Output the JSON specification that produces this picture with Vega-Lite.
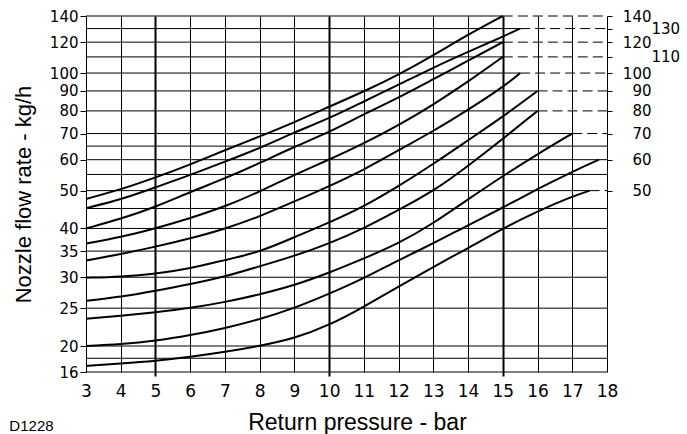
{
  "$schema": "https://vega.github.io/schema/vega-lite/v6.json",
  "width": 521,
  "height": 356,
  "autosize": {"type": "none"},
  "padding": {"left": 86, "top": 16, "right": 80, "bottom": 62},
  "background": "white",
  "config": {"view": {"stroke": null}},
  "title": {"text": "D1228", "orient": "bottom", "anchor": "start", "frame": "bounds", "font": "Liberation Sans", "fontSize": 15, "fontWeight": "normal", "color": "black", "dy": -19, "dx": -3},
  "layer": [
    {
      "data": {"values": [
        {"level": 140, "from": 3, "to": 15, "segment": "grid"},
        {"level": 140, "from": 15, "to": 18, "segment": "extension"},
        {"level": 130, "from": 3, "to": 15.5, "segment": "grid"},
        {"level": 130, "from": 15.5, "to": 18, "segment": "extension"},
        {"level": 120, "from": 3, "to": 15, "segment": "grid"},
        {"level": 120, "from": 15, "to": 18, "segment": "extension"},
        {"level": 110, "from": 3, "to": 15, "segment": "grid"},
        {"level": 110, "from": 15, "to": 18, "segment": "extension"},
        {"level": 100, "from": 3, "to": 15.5, "segment": "grid"},
        {"level": 100, "from": 15.5, "to": 18, "segment": "extension"},
        {"level": 90, "from": 3, "to": 16, "segment": "grid"},
        {"level": 90, "from": 16, "to": 18, "segment": "extension"},
        {"level": 80, "from": 3, "to": 16, "segment": "grid"},
        {"level": 80, "from": 16, "to": 18, "segment": "extension"},
        {"level": 70, "from": 3, "to": 17, "segment": "grid"},
        {"level": 70, "from": 17, "to": 18, "segment": "extension"},
        {"level": 65, "from": 3, "to": 18, "segment": "grid"},
        {"level": 60, "from": 3, "to": 17.77, "segment": "grid"},
        {"level": 60, "from": 17.77, "to": 18, "segment": "extension"},
        {"level": 55, "from": 3, "to": 18, "segment": "grid"},
        {"level": 50, "from": 3, "to": 17.5, "segment": "grid"},
        {"level": 50, "from": 17.5, "to": 18, "segment": "extension"},
        {"level": 45, "from": 3, "to": 18, "segment": "grid"},
        {"level": 40, "from": 3, "to": 18, "segment": "grid"},
        {"level": 35, "from": 3, "to": 18, "segment": "grid"},
        {"level": 30, "from": 3, "to": 18, "segment": "grid"},
        {"level": 25, "from": 3, "to": 18, "segment": "grid"},
        {"level": 20, "from": 3, "to": 18, "segment": "grid"},
        {"level": 18, "from": 3, "to": 18, "segment": "grid"},
        {"level": 16, "from": 3, "to": 18, "segment": "grid"}
      ]},
      "mark": {"type": "rule", "color": "black", "strokeWidth": 1},
      "encoding": {
        "y": {
          "field": "level", "type": "quantitative",
          "scale": {"type": "log", "domain": [16, 20, 140], "range": [356, 330, 0], "nice": false},
          "axis": {
            "orient": "left",
            "values": [140, 120, 100, 90, 80, 70, 60, 50, 40, 35, 30, 25, 20, 16],
            "format": "d",
            "grid": false, "domain": false,
            "ticks": true, "tickSize": 6, "tickColor": "black", "tickWidth": 1,
            "labelPadding": 2, "labelFont": "DejaVu Sans", "labelFontSize": 15, "labelColor": "black",
            "labelOverlap": false, "labelFlush": false,
            "title": "Nozzle flow rate - kg/h",
            "titleFont": "Liberation Sans", "titleFontSize": 22, "titleFontWeight": "normal", "titleColor": "black",
            "titlePadding": 14
          }
        },
        "x": {
          "field": "from", "type": "quantitative",
          "scale": {"domain": [3, 18], "nice": false, "zero": false},
          "axis": {
            "orient": "bottom",
            "values": [3, 4, 5, 6, 7, 8, 9, 10, 11, 12, 13, 14, 15, 16, 17, 18],
            "format": "d",
            "grid": true, "gridColor": "black", "gridOpacity": 1,
            "gridWidth": {"condition": {"test": "datum.value % 5 == 0", "value": 2}, "value": 1},
            "domain": false,
            "ticks": true, "tickSize": 4, "tickWidth": 2, "tickColor": "black",
            "tickOpacity": {"condition": {"test": "datum.value % 5 == 0", "value": 1}, "value": 0},
            "labelPadding": 7, "labelFont": "DejaVu Sans", "labelFontSize": 17, "labelColor": "black",
            "labelOverlap": false, "labelFlush": false,
            "title": "Return pressure - bar",
            "titleFont": "Liberation Sans", "titleFontSize": 23, "titleFontWeight": "normal", "titleColor": "black",
            "titlePadding": 12, "titleX": 271
          }
        },
        "x2": {"field": "to"},
        "strokeDash": {
          "field": "segment", "type": "nominal",
          "scale": {"domain": ["grid", "extension"], "range": [[1, 0], [10, 5]]},
          "legend": null
        }
      }
    },
    {
      "data": {"values": [
        {"nozzle": "140", "pressure": 3, "flow": 47.6},
        {"nozzle": "140", "pressure": 4, "flow": 50.3},
        {"nozzle": "140", "pressure": 5, "flow": 54.0},
        {"nozzle": "140", "pressure": 6, "flow": 58.3},
        {"nozzle": "140", "pressure": 7, "flow": 63.5},
        {"nozzle": "140", "pressure": 8, "flow": 68.8},
        {"nozzle": "140", "pressure": 9, "flow": 74.8},
        {"nozzle": "140", "pressure": 10, "flow": 82},
        {"nozzle": "140", "pressure": 11, "flow": 89.7},
        {"nozzle": "140", "pressure": 12, "flow": 99},
        {"nozzle": "140", "pressure": 13, "flow": 111},
        {"nozzle": "140", "pressure": 14, "flow": 125.5},
        {"nozzle": "140", "pressure": 15, "flow": 140},
        {"nozzle": "130", "pressure": 3, "flow": 45.1},
        {"nozzle": "130", "pressure": 4, "flow": 47.4},
        {"nozzle": "130", "pressure": 5, "flow": 51.0},
        {"nozzle": "130", "pressure": 6, "flow": 54.8},
        {"nozzle": "130", "pressure": 7, "flow": 59.3},
        {"nozzle": "130", "pressure": 8, "flow": 64.2},
        {"nozzle": "130", "pressure": 9, "flow": 70.5},
        {"nozzle": "130", "pressure": 10, "flow": 76.5},
        {"nozzle": "130", "pressure": 11, "flow": 84.6},
        {"nozzle": "130", "pressure": 12, "flow": 93.3},
        {"nozzle": "130", "pressure": 13, "flow": 103.3},
        {"nozzle": "130", "pressure": 14, "flow": 113.3},
        {"nozzle": "130", "pressure": 15, "flow": 124},
        {"nozzle": "130", "pressure": 15.5, "flow": 130},
        {"nozzle": "120", "pressure": 3, "flow": 40.0},
        {"nozzle": "120", "pressure": 4, "flow": 42.3},
        {"nozzle": "120", "pressure": 5, "flow": 45.4},
        {"nozzle": "120", "pressure": 6, "flow": 49.6},
        {"nozzle": "120", "pressure": 7, "flow": 53.7},
        {"nozzle": "120", "pressure": 8, "flow": 58.8},
        {"nozzle": "120", "pressure": 9, "flow": 64.8},
        {"nozzle": "120", "pressure": 10, "flow": 70.5},
        {"nozzle": "120", "pressure": 11, "flow": 78.5},
        {"nozzle": "120", "pressure": 12, "flow": 86.5},
        {"nozzle": "120", "pressure": 13, "flow": 96.5},
        {"nozzle": "120", "pressure": 14, "flow": 107.5},
        {"nozzle": "120", "pressure": 15, "flow": 120},
        {"nozzle": "110", "pressure": 3, "flow": 36.6},
        {"nozzle": "110", "pressure": 4, "flow": 38.0},
        {"nozzle": "110", "pressure": 5, "flow": 40.0},
        {"nozzle": "110", "pressure": 6, "flow": 42.5},
        {"nozzle": "110", "pressure": 7, "flow": 45.5},
        {"nozzle": "110", "pressure": 8, "flow": 49.7},
        {"nozzle": "110", "pressure": 9, "flow": 54.9},
        {"nozzle": "110", "pressure": 10, "flow": 60},
        {"nozzle": "110", "pressure": 11, "flow": 66},
        {"nozzle": "110", "pressure": 12, "flow": 73.5},
        {"nozzle": "110", "pressure": 13, "flow": 83},
        {"nozzle": "110", "pressure": 14, "flow": 95},
        {"nozzle": "110", "pressure": 15, "flow": 110},
        {"nozzle": "100", "pressure": 3, "flow": 33.1},
        {"nozzle": "100", "pressure": 4, "flow": 34.4},
        {"nozzle": "100", "pressure": 5, "flow": 35.9},
        {"nozzle": "100", "pressure": 6, "flow": 37.7},
        {"nozzle": "100", "pressure": 7, "flow": 39.9},
        {"nozzle": "100", "pressure": 8, "flow": 42.9},
        {"nozzle": "100", "pressure": 9, "flow": 46.9},
        {"nozzle": "100", "pressure": 10, "flow": 51.3},
        {"nozzle": "100", "pressure": 11, "flow": 56.5},
        {"nozzle": "100", "pressure": 12, "flow": 63.5},
        {"nozzle": "100", "pressure": 13, "flow": 71},
        {"nozzle": "100", "pressure": 14, "flow": 80.5},
        {"nozzle": "100", "pressure": 15, "flow": 92},
        {"nozzle": "100", "pressure": 15.5, "flow": 100},
        {"nozzle": "90", "pressure": 3, "flow": 29.9},
        {"nozzle": "90", "pressure": 4, "flow": 30.1},
        {"nozzle": "90", "pressure": 5, "flow": 30.6},
        {"nozzle": "90", "pressure": 6, "flow": 31.6},
        {"nozzle": "90", "pressure": 7, "flow": 33.2},
        {"nozzle": "90", "pressure": 8, "flow": 34.8},
        {"nozzle": "90", "pressure": 9, "flow": 38.0},
        {"nozzle": "90", "pressure": 10, "flow": 41.4},
        {"nozzle": "90", "pressure": 11, "flow": 45.5},
        {"nozzle": "90", "pressure": 12, "flow": 51.3},
        {"nozzle": "90", "pressure": 13, "flow": 58.5},
        {"nozzle": "90", "pressure": 14, "flow": 67.3},
        {"nozzle": "90", "pressure": 15, "flow": 77.3},
        {"nozzle": "90", "pressure": 16, "flow": 90},
        {"nozzle": "80", "pressure": 3, "flow": 26.1},
        {"nozzle": "80", "pressure": 4, "flow": 26.7},
        {"nozzle": "80", "pressure": 5, "flow": 27.7},
        {"nozzle": "80", "pressure": 6, "flow": 28.8},
        {"nozzle": "80", "pressure": 7, "flow": 30.1},
        {"nozzle": "80", "pressure": 8, "flow": 32.0},
        {"nozzle": "80", "pressure": 9, "flow": 34.0},
        {"nozzle": "80", "pressure": 10, "flow": 36.6},
        {"nozzle": "80", "pressure": 11, "flow": 40.0},
        {"nozzle": "80", "pressure": 12, "flow": 44.6},
        {"nozzle": "80", "pressure": 13, "flow": 49.8},
        {"nozzle": "80", "pressure": 14, "flow": 57.8},
        {"nozzle": "80", "pressure": 15, "flow": 67.8},
        {"nozzle": "80", "pressure": 16, "flow": 80},
        {"nozzle": "70", "pressure": 3, "flow": 23.5},
        {"nozzle": "70", "pressure": 4, "flow": 23.9},
        {"nozzle": "70", "pressure": 5, "flow": 24.4},
        {"nozzle": "70", "pressure": 6, "flow": 25.0},
        {"nozzle": "70", "pressure": 7, "flow": 25.9},
        {"nozzle": "70", "pressure": 8, "flow": 27.1},
        {"nozzle": "70", "pressure": 9, "flow": 28.6},
        {"nozzle": "70", "pressure": 10, "flow": 30.8},
        {"nozzle": "70", "pressure": 11, "flow": 33.5},
        {"nozzle": "70", "pressure": 12, "flow": 36.6},
        {"nozzle": "70", "pressure": 13, "flow": 41.2},
        {"nozzle": "70", "pressure": 14, "flow": 47.5},
        {"nozzle": "70", "pressure": 15, "flow": 54.5},
        {"nozzle": "70", "pressure": 16, "flow": 62},
        {"nozzle": "70", "pressure": 17, "flow": 70},
        {"nozzle": "60", "pressure": 3, "flow": 20.0},
        {"nozzle": "60", "pressure": 4, "flow": 20.2},
        {"nozzle": "60", "pressure": 5, "flow": 20.6},
        {"nozzle": "60", "pressure": 6, "flow": 21.3},
        {"nozzle": "60", "pressure": 7, "flow": 22.2},
        {"nozzle": "60", "pressure": 8, "flow": 23.4},
        {"nozzle": "60", "pressure": 9, "flow": 25.0},
        {"nozzle": "60", "pressure": 10, "flow": 27.2},
        {"nozzle": "60", "pressure": 11, "flow": 29.8},
        {"nozzle": "60", "pressure": 12, "flow": 33.2},
        {"nozzle": "60", "pressure": 13, "flow": 36.6},
        {"nozzle": "60", "pressure": 14, "flow": 40.8},
        {"nozzle": "60", "pressure": 15, "flow": 45.2},
        {"nozzle": "60", "pressure": 16, "flow": 50.5},
        {"nozzle": "60", "pressure": 17, "flow": 55.9},
        {"nozzle": "60", "pressure": 17.77, "flow": 60},
        {"nozzle": "50", "pressure": 3, "flow": 16.85},
        {"nozzle": "50", "pressure": 4, "flow": 17.2},
        {"nozzle": "50", "pressure": 5, "flow": 17.6},
        {"nozzle": "50", "pressure": 6, "flow": 18.2},
        {"nozzle": "50", "pressure": 7, "flow": 19.0},
        {"nozzle": "50", "pressure": 8, "flow": 20.0},
        {"nozzle": "50", "pressure": 9, "flow": 20.9},
        {"nozzle": "50", "pressure": 10, "flow": 22.6},
        {"nozzle": "50", "pressure": 11, "flow": 25.2},
        {"nozzle": "50", "pressure": 12, "flow": 28.4},
        {"nozzle": "50", "pressure": 13, "flow": 31.9},
        {"nozzle": "50", "pressure": 14, "flow": 35.6},
        {"nozzle": "50", "pressure": 15, "flow": 40.0},
        {"nozzle": "50", "pressure": 16, "flow": 44.3},
        {"nozzle": "50", "pressure": 17, "flow": 48.3},
        {"nozzle": "50", "pressure": 17.5, "flow": 50}
      ]},
      "mark": {"type": "line", "color": "black", "strokeWidth": 2, "interpolate": "basis"},
      "encoding": {
        "x": {
          "field": "pressure", "type": "quantitative",
          "scale": {"domain": [3, 18], "nice": false, "zero": false},
          "axis": {
            "orient": "bottom",
            "values": [3, 4, 5, 6, 7, 8, 9, 10, 11, 12, 13, 14, 15, 16, 17, 18],
            "format": "d",
            "grid": true, "gridColor": "black", "gridOpacity": 1,
            "gridWidth": {"condition": {"test": "datum.value % 5 == 0", "value": 2}, "value": 1},
            "domain": false,
            "ticks": true, "tickSize": 4, "tickWidth": 2, "tickColor": "black",
            "tickOpacity": {"condition": {"test": "datum.value % 5 == 0", "value": 1}, "value": 0},
            "labelPadding": 7, "labelFont": "DejaVu Sans", "labelFontSize": 17, "labelColor": "black",
            "labelOverlap": false, "labelFlush": false,
            "title": "Return pressure - bar",
            "titleFont": "Liberation Sans", "titleFontSize": 23, "titleFontWeight": "normal", "titleColor": "black",
            "titlePadding": 12, "titleX": 271
          }
        },
        "y": {
          "field": "flow", "type": "quantitative",
          "scale": {"type": "log", "domain": [16, 20, 140], "range": [356, 330, 0], "nice": false},
          "axis": {
            "orient": "right",
            "values": [140, 130, 120, 110, 100, 90, 80, 70, 60, 50],
            "format": "d",
            "grid": false, "domain": false,
            "ticks": true, "tickSize": 5, "tickColor": "black", "tickWidth": 1,
            "labelPadding": 39, "labelFont": "DejaVu Sans", "labelFontSize": 15, "labelColor": "black",
            "labelAlign": {"condition": {"test": "datum.value == 130 || datum.value == 110", "value": "left"}, "value": "right"},
            "labelOverlap": false, "labelFlush": false,
            "title": null
          }
        },
        "detail": {"field": "nozzle", "type": "nominal"}
      }
    }
  ],
  "resolve": {"axis": {"y": "independent"}}
}
